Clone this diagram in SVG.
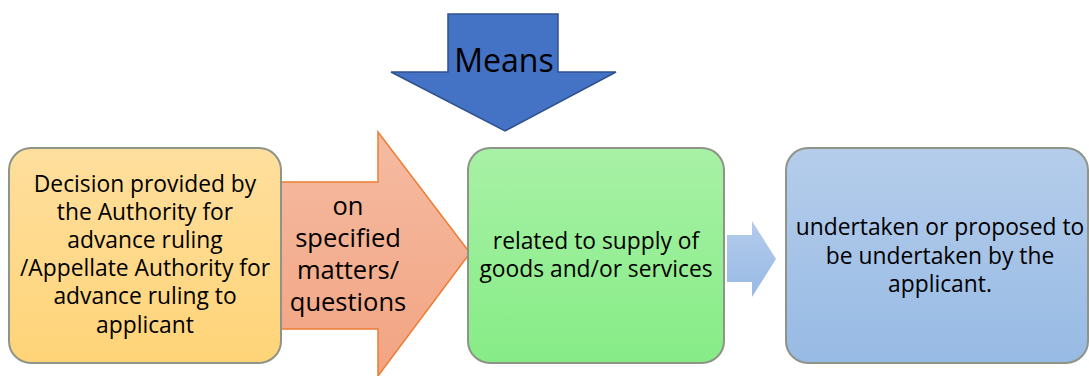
<svg xmlns="http://www.w3.org/2000/svg" width="1089" height="376" viewBox="0 0 1089 376">
<defs>
<linearGradient id="gY" x1="0" y1="0" x2="0" y2="1"><stop offset="0" stop-color="#FFDF9E"/><stop offset="1" stop-color="#FFD478"/></linearGradient>
<linearGradient id="gO" x1="0" y1="0" x2="0" y2="1"><stop offset="0" stop-color="#F5BBA2"/><stop offset="1" stop-color="#F2A482"/></linearGradient>
<linearGradient id="gG" x1="0" y1="0" x2="0" y2="1"><stop offset="0" stop-color="#A8F1A6"/><stop offset="1" stop-color="#86EC86"/></linearGradient>
<linearGradient id="gB" x1="0" y1="0" x2="0" y2="1"><stop offset="0" stop-color="#B5CDEB"/><stop offset="1" stop-color="#97BAE4"/></linearGradient>
<linearGradient id="gBA" x1="0" y1="0" x2="0" y2="1"><stop offset="0" stop-color="#B3CBEB"/><stop offset="1" stop-color="#98BAE5"/></linearGradient>
</defs>
<style>
.box{stroke:#8E9488;stroke-width:2}
.t{font-family:"Open Sans","Noto Sans","DejaVu Sans",sans-serif;fill:#000;text-anchor:middle}
.s21{font-size:22.8px}
.s26{font-size:25.5px}
.s30{font-size:32px}
</style>
<g id="connectors">
<path id="arrow-means" d="M448,14 H558 V72 H616 L505,131 L391,72 H448 Z" fill="#4472C4" stroke="#2F528F" stroke-width="1.5"/>
<path id="arrow-on" d="M279,182 H378 V132 L470,253 L378,376 V329 H279 Z" fill="url(#gO)" stroke="#ED7D31" stroke-width="1.5"/>
<path id="arrow-blue" d="M727,235 H752 V221 L776,259 L752,297 V282 H727 Z" fill="url(#gBA)"/>
</g>
<g id="label-means"><text class="t s30" x="504" y="72">Means</text></g>
<g id="label-on">
<text class="t s26" x="348" y="215">on</text>
<text class="t s26" x="348" y="247">specified</text>
<text class="t s26" x="348" y="279">matters/</text>
<text class="t s26" x="348" y="311">questions</text>
</g>
<g id="node-decision">
<rect class="box" x="9" y="148" width="272" height="215" rx="22" fill="url(#gY)"/>
<text class="t s21" x="145" y="192">Decision provided by</text>
<text class="t s21" x="145" y="220">the Authority for</text>
<text class="t s21" x="145" y="248">advance ruling</text>
<text class="t s21" x="145" y="276" textLength="250" lengthAdjust="spacingAndGlyphs">/Appellate Authority for</text>
<text class="t s21" x="145" y="304">advance ruling to</text>
<text class="t s21" x="145" y="333">applicant</text>
</g>
<g id="node-related">
<rect class="box" x="468" y="148" width="256" height="215" rx="22" fill="url(#gG)"/>
<text class="t s21" x="596" y="249">related to supply of</text>
<text class="t s21" x="596" y="277">goods and/or services</text>
</g>
<g id="node-undertaken">
<rect class="box" x="786" y="148" width="302" height="215" rx="22" fill="url(#gB)"/>
<text class="t s21" x="940" y="235">undertaken or proposed to</text>
<text class="t s21" x="940" y="264">be undertaken by the</text>
<text class="t s21" x="940" y="292">applicant.</text>
</g>
</svg>
